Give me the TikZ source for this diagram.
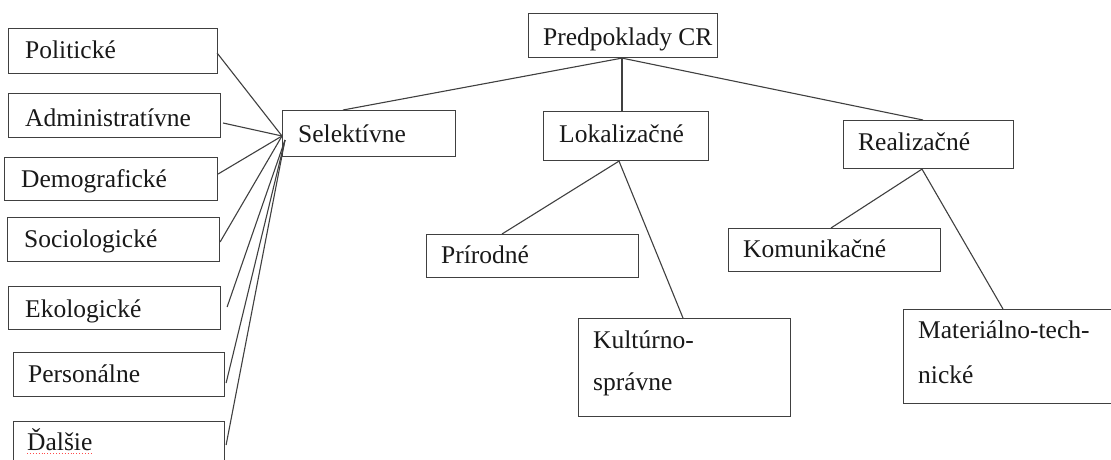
\documentclass[tikz,border=0pt]{standalone}
\usepackage{fontspec}
\setmainfont{Liberation Serif}
\usetikzlibrary{calc}
\begin{document}
\begin{tikzpicture}[x=1pt,y=-1pt,
  box/.style={draw=black!75, line width=1.1pt, rectangle, anchor=north west, inner sep=0pt},
  lbl/.style={anchor=base west, inner sep=0pt, text=black!90, font=\fontsize{25.5}{30}\selectfont},
  conn/.style={draw=black!75, line width=1.1pt}]
\useasboundingbox (0,0) rectangle (1111,459);
\fill[white] (0,0) rectangle (1111,459);
% left column
\node[box, minimum width=209pt, minimum height=45pt] (pol) at (8,28) {};
\node[box, minimum width=212pt, minimum height=44pt] (adm) at (8,93) {};
\node[box, minimum width=213pt, minimum height=43pt] (dem) at (4,157) {};
\node[box, minimum width=212pt, minimum height=44pt] (soc) at (7,217) {};
\node[box, minimum width=212pt, minimum height=43pt] (eko) at (8,286) {};
\node[box, minimum width=211pt, minimum height=44pt] (per) at (13,352) {};
\node[box, minimum width=211pt, minimum height=50pt] (dal) at (13,421) {};
% tree
\node[box, minimum width=189pt, minimum height=44pt] (pred) at (528,13) {};
\node[box, minimum width=173pt, minimum height=46pt] (sel) at (282,110) {};
\node[box, minimum width=165pt, minimum height=49pt] (lok) at (543,111) {};
\node[box, minimum width=170pt, minimum height=48pt] (real) at (843,120) {};
\node[box, minimum width=212pt, minimum height=43pt] (prir) at (426,234) {};
\node[box, minimum width=212pt, minimum height=98pt] (kult) at (578,318) {};
\node[box, minimum width=212pt, minimum height=43pt] (kom) at (728,228) {};
\node[box, minimum width=217pt, minimum height=94pt] (mat) at (903,309) {};
% labels
\node[lbl] (pol-t) at (25,58) {Politické};
\node[lbl] (adm-t) at (25,126) {Administratívne};
\node[lbl] (dem-t) at (21,187) {Demografické};
\node[lbl] (soc-t) at (24,247) {Sociologické};
\node[lbl] (eko-t) at (25,317) {Ekologické};
\node[lbl] (per-t) at (28,382) {Personálne};
\node[lbl] (dal-t) at (27,450) {Ďalšie};
\node[lbl] (pred-t) at (543,45) {Predpoklady CR};
\node[lbl] (sel-t) at (298,142) {Selektívne};
\node[lbl] (lok-t) at (559,142) {Lokalizačné};
\node[lbl] (real-t) at (858,150) {Realizačné};
\node[lbl] (prir-t) at (441,263) {Prírodné};
\node[lbl] (kult-t1) at (593,348) {Kultúrno-};
\node[lbl] (kult-t2) at (593,390) {správne};
\node[lbl] (kom-t) at (743,257) {Komunikačné};
\node[lbl] (mat-t1) at (918,338) {Materiálno-tech-};
\node[lbl] (mat-t2) at (918,383) {nické};
\draw[red!70, dotted, line width=0.9pt] ($(dal-t.base west)+(0,3.5)$) -- ($(dal-t.base east)+(0,3.5)$);
% connectors to Selektívne
\coordinate (selin) at ($(sel.north west)+(0,26)$);
\coordinate (selin2) at ($(sel.north west)+(3,30)$);
\draw[conn] ($(pol.north east)+(-1,25)$) -- (selin);
\draw[conn] ($(adm.north east)+(2,30)$) -- (selin);
\draw[conn] ($(dem.north east)+(0,17)$) -- (selin);
\draw[conn] ($(soc.north east)+(0,25)$) -- (selin);
\draw[conn] ($(eko.north east)+(6,21)$) -- (selin2);
\draw[conn] ($(per.north east)+(1,31)$) -- (selin2);
\draw[conn] ($(dal.north east)+(1,24)$) -- (selin2);
% tree connectors
\coordinate (predb) at ($(pred.south west)+(94,0)$);
\draw[conn] (predb) -- ($(sel.north west)+(61,0)$);
\draw[conn] (predb) -- (predb |- lok.north);
\draw[conn] (predb) -- ($(real.north west)+(80,0)$);
\draw[conn] ($(lok.south west)+(76,0)$) -- ($(prir.north west)+(76,0)$);
\draw[conn] ($(lok.south west)+(76,0)$) -- ($(kult.north west)+(105,0)$);
\draw[conn] ($(real.south west)+(79,0)$) -- ($(kom.north west)+(103,0)$);
\draw[conn] ($(real.south west)+(79,0)$) -- ($(mat.north west)+(100,0)$);
\end{tikzpicture}
\end{document}
